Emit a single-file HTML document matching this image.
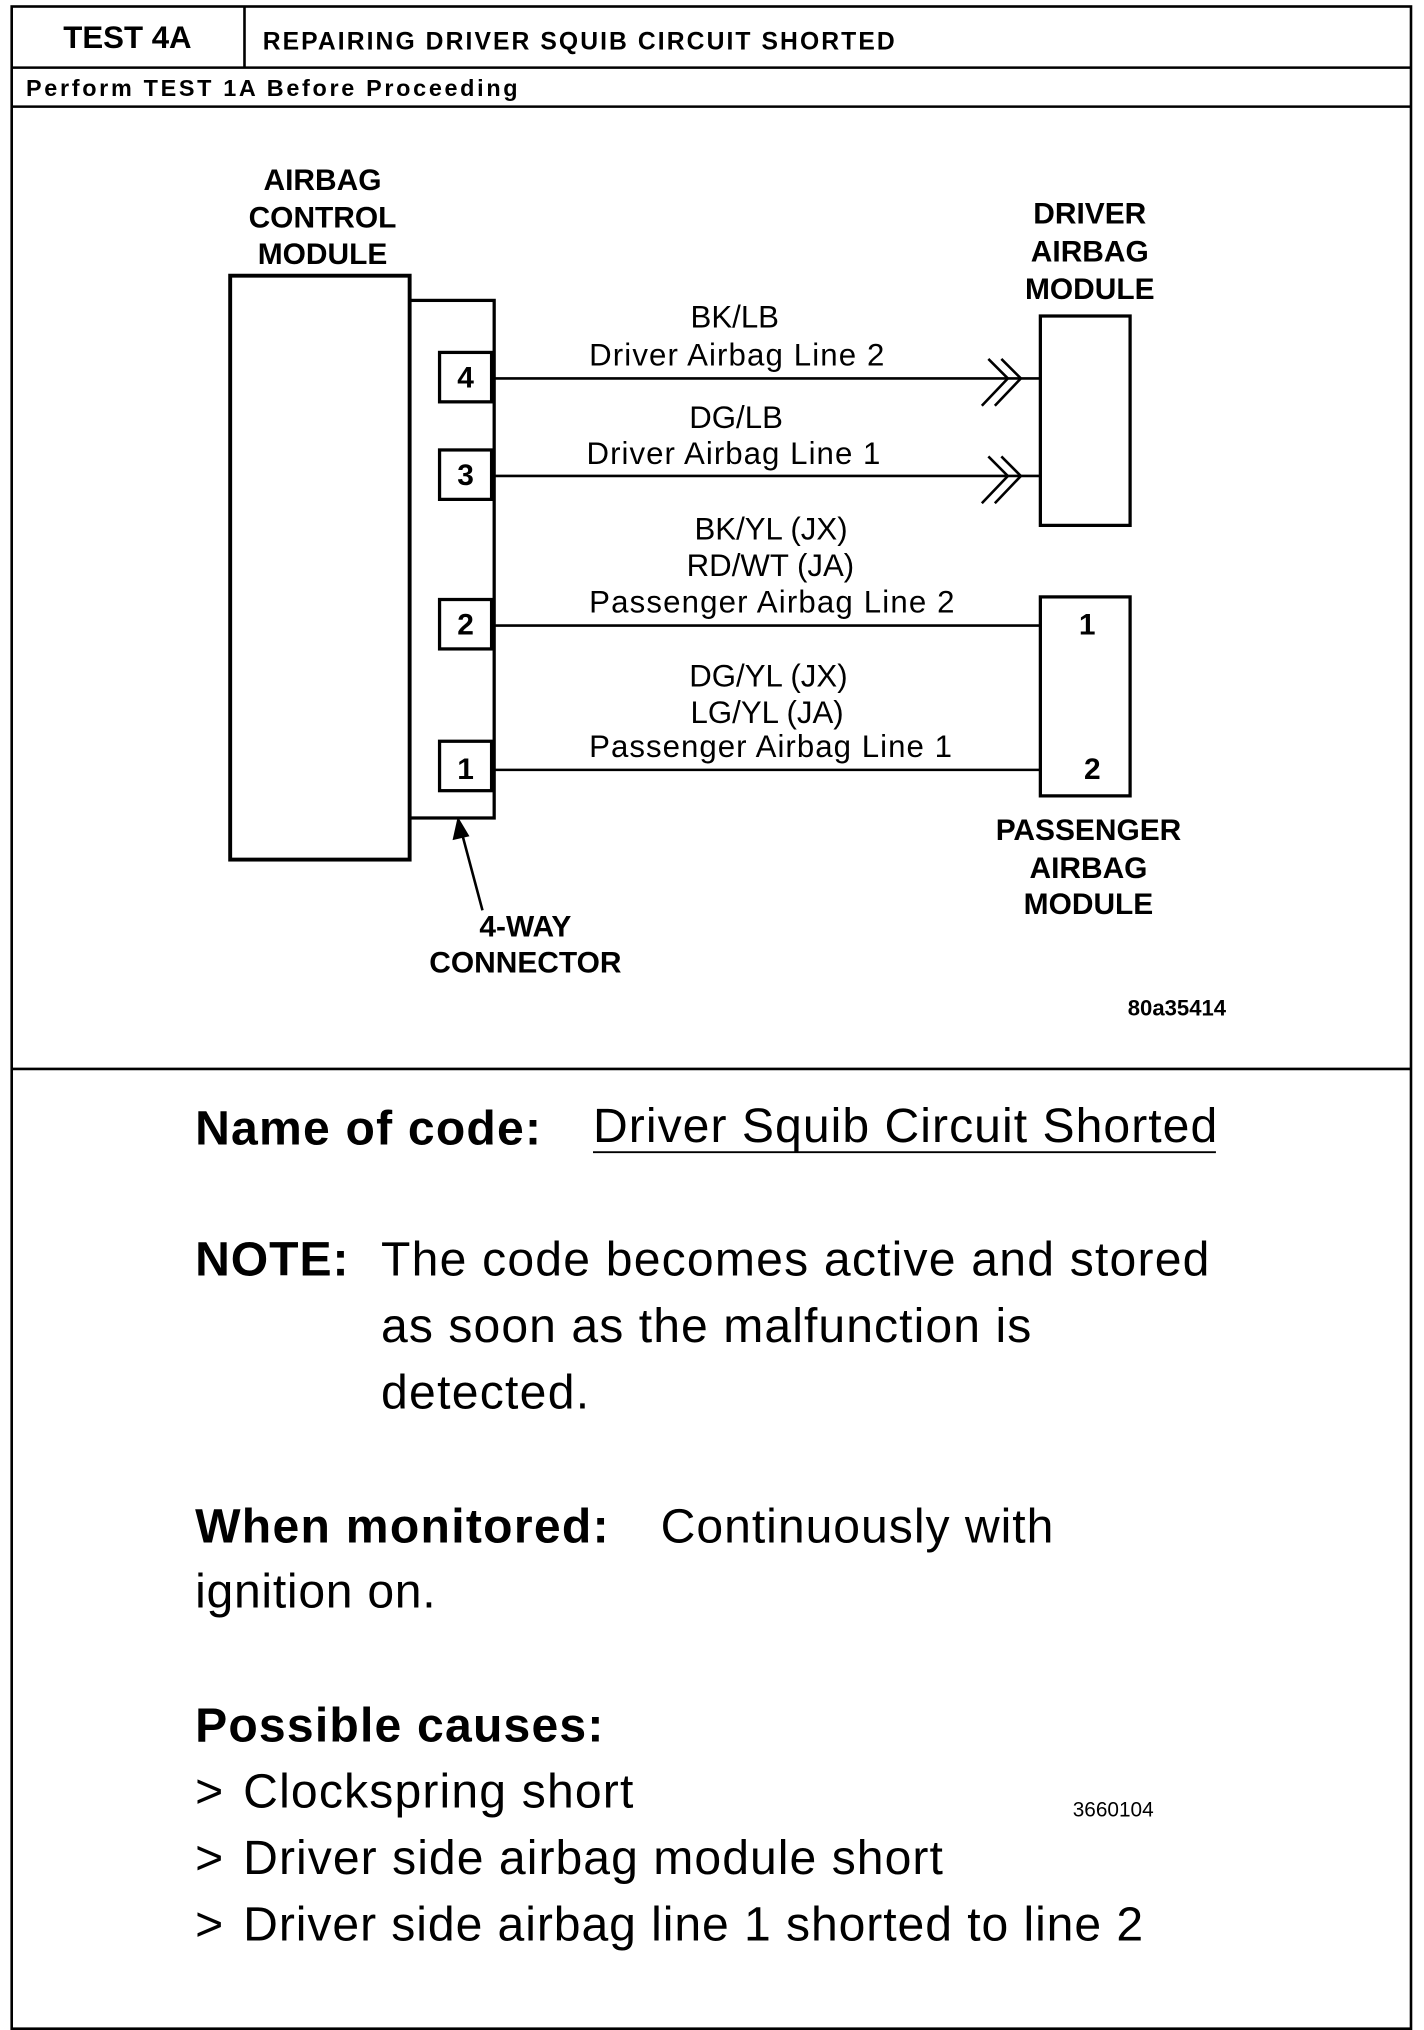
<!DOCTYPE html>
<html><head><style>html,body{margin:0;padding:0;background:#fff}svg{display:block}</style></head><body>
<svg width="1424" height="2030" viewBox="0 0 1095 1561" preserveAspectRatio="none" xmlns="http://www.w3.org/2000/svg" font-family="Liberation Sans, sans-serif">
<g fill="none" stroke="#000" stroke-width="2">
<rect x="9" y="5" width="1076" height="1555"/>
<line x1="9" y1="52" x2="1085" y2="52"/>
<line x1="188" y1="5" x2="188" y2="52"/>
<line x1="9" y1="82" x2="1085" y2="82"/>
<line x1="9" y1="822" x2="1085" y2="822"/>
<rect x="177" y="212" width="138" height="449" stroke-width="3"/>
<rect x="315" y="231" width="65" height="398" stroke-width="2.5"/>
<rect x="338" y="271" width="40" height="38" stroke-width="2.5"/>
<rect x="338" y="346" width="40" height="38" stroke-width="2.5"/>
<rect x="338" y="461" width="40" height="38" stroke-width="2.5"/>
<rect x="338" y="570" width="40" height="38" stroke-width="2.5"/>
<line x1="380" y1="291" x2="800" y2="291"/>
<line x1="380" y1="366" x2="800" y2="366"/>
<line x1="380" y1="481" x2="800" y2="481"/>
<line x1="380" y1="592" x2="800" y2="592"/>
<rect x="800" y="243" width="69" height="161" stroke-width="2.5"/>
<rect x="800" y="459" width="69" height="153" stroke-width="2.5"/>
<path d="M760 276 L775 291 L755 312 M770 276 L785 291 L765 312"/>
<path d="M760 351 L775 366 L755 387 M770 351 L785 366 L765 387"/>
<line x1="371" y1="700" x2="355" y2="640"/>
<line x1="456" y1="886" x2="935" y2="886" stroke-width="1.5"/>
</g>
<path d="M352 628 L348 646 L361 643 Z" fill="#000"/>
<g font-weight="bold" fill="#000">
<text x="98" y="37" font-size="24" text-anchor="middle">TEST 4A</text>
<text x="202" y="38" font-size="19" textLength="486">REPAIRING DRIVER SQUIB CIRCUIT SHORTED</text>
<text x="20" y="74" font-size="18" textLength="378">Perform TEST 1A Before Proceeding</text>
<g font-size="23" text-anchor="middle">
<text x="248" y="146">AIRBAG</text><text x="248" y="175">CONTROL</text><text x="248" y="203">MODULE</text>
<text x="838" y="172">DRIVER</text><text x="838" y="201">AIRBAG</text><text x="838" y="230">MODULE</text>
<text x="837" y="646">PASSENGER</text><text x="837" y="675">AIRBAG</text><text x="837" y="703">MODULE</text>
<text x="404" y="720">4-WAY</text><text x="404" y="748">CONNECTOR</text>
<text x="358" y="298">4</text><text x="358" y="373">3</text><text x="358" y="488">2</text><text x="358" y="599">1</text>
<text x="836" y="488">1</text><text x="840" y="599">2</text>
</g>
<text x="905" y="781" font-size="17" text-anchor="middle">80a35414</text>
<text x="856" y="1397" font-size="16" text-anchor="middle" font-weight="normal">3660104</text>
</g>
<g font-size="24" fill="#000">
<text x="531" y="252">BK/LB</text><text x="453" y="281" textLength="227">Driver Airbag Line 2</text>
<text x="530" y="329">DG/LB</text><text x="451" y="357" textLength="226">Driver Airbag Line 1</text>
<text x="534" y="415">BK/YL (JX)</text><text x="528" y="443">RD/WT (JA)</text><text x="453" y="471" textLength="281">Passenger Airbag Line 2</text>
<text x="530" y="528">DG/YL (JX)</text><text x="531" y="556">LG/YL (JA)</text><text x="453" y="582" textLength="279">Passenger Airbag Line 1</text>
</g>
<g font-size="37" fill="#000">
<text x="150" y="880" font-weight="bold" textLength="266">Name of code:</text>
<text x="456" y="878" textLength="480">Driver Squib Circuit Shorted</text>
<text x="150" y="981" font-weight="bold" textLength="118">NOTE:</text>
<text x="293" y="981" textLength="637">The code becomes active and stored</text>
<text x="293" y="1032" textLength="500">as soon as the malfunction is</text>
<text x="293" y="1083" textLength="160">detected.</text>
<text x="150" y="1186" font-weight="bold" textLength="318">When  monitored:</text>
<text x="508" y="1186" textLength="302">Continuously with</text>
<text x="150" y="1236" textLength="185">ignition on.</text>
<text x="150" y="1339" font-weight="bold" textLength="314">Possible  causes:</text>
<text x="150" y="1390">&gt;</text><text x="187" y="1390" textLength="300">Clockspring short</text>
<text x="150" y="1441">&gt;</text><text x="187" y="1441" textLength="538">Driver side airbag module short</text>
<text x="150" y="1492">&gt;</text><text x="187" y="1492" textLength="692">Driver side airbag line 1 shorted to line 2</text>
</g>
</svg>
</body></html>
